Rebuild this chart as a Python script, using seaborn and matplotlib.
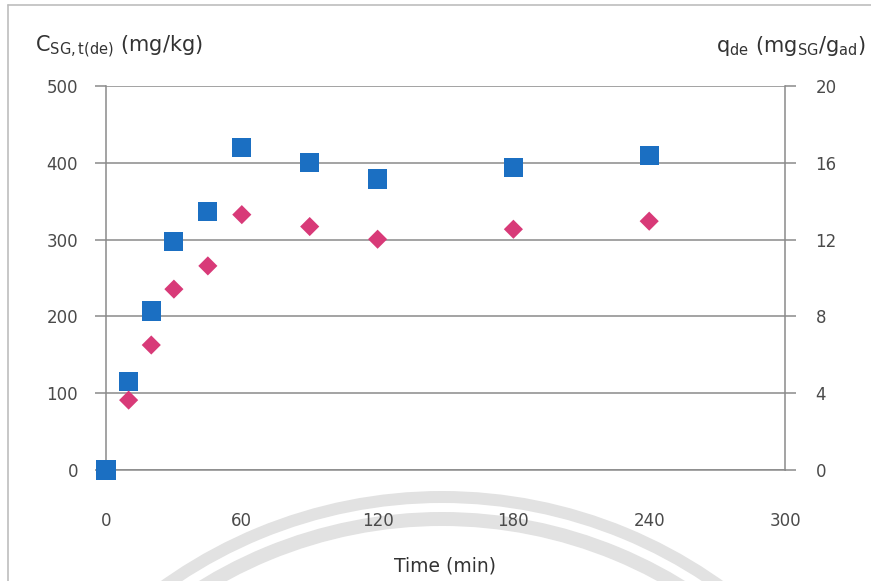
import numpy as np
import pandas as pd
import matplotlib
matplotlib.use("Agg")
import matplotlib.pyplot as plt
from matplotlib.patches import Arc
import seaborn as sns

# Desorption kinetics data
time_c = [0, 10, 20, 30, 45, 60, 90, 120, 180, 240]          # min
conc_sg = [0, 115, 207, 298, 337, 420, 400, 379, 394, 409]   # mg/kg

time_q = [10, 20, 30, 45, 60, 90, 120, 180, 240]             # min
q_de = [3.64, 6.51, 9.42, 10.63, 13.30, 12.68, 12.02, 12.54, 12.96]  # mg_SG/g_ad

x_ticks = [0, 60, 120, 180, 240, 300]
left_ticks = [0, 100, 200, 300, 400, 500]
right_ticks = [0, 4, 8, 12, 16, 20]

df_c = pd.DataFrame({"time": time_c, "conc": conc_sg})
df_q = pd.DataFrame({"time": time_q, "q": q_de})

sns.set_style("white")
plt.rcParams["font.family"] = ["DejaVu Sans"]

fig = plt.figure(figsize=(8.71, 5.81), dpi=100)
fig.patch.set_facecolor("white")

# faint seal arcs in the background
ax_bg = fig.add_axes([0, 0, 1, 1], zorder=-5)
ax_bg.set_xlim(0, 871)
ax_bg.set_ylim(581, 0)
ax_bg.axis("off")
for r, w in [(478, 12), (456, 14)]:
    ax_bg.add_patch(Arc((442, 975), 2 * r, 2 * r, theta1=0, theta2=360,
                        color="#e2e2e2", lw=w * 0.72))
# frame lines
ax_bg.plot([8, 8], [5, 581], color="#bdbdbd", lw=1.2)
ax_bg.plot([8, 871], [5, 5], color="#bdbdbd", lw=1.2)

ax = fig.add_axes([106 / 871, 1 - 470 / 581, (785 - 106) / 871, (470 - 86) / 581])
ax.set_facecolor("none")
ax2 = ax.twinx()

grey = "#8a8a8a"
sns.scatterplot(data=df_c, x="time", y="conc", ax=ax, marker="s", s=190,
                color="#1b6fc2", edgecolor="none", zorder=5, clip_on=False)
sns.scatterplot(data=df_q, x="time", y="q", ax=ax2, marker="D", s=95,
                color="#d83a78", edgecolor="none", zorder=5, clip_on=False)

ax.set_xlim(0, 300)
ax.set_ylim(0, 500)
ax2.set_ylim(0, 20)
ax.set_xticks(x_ticks)
ax.set_yticks(left_ticks)
ax2.set_yticks(right_ticks)

ax.yaxis.grid(True, color=grey, lw=1.1)
ax.xaxis.grid(False)
ax2.grid(False)
ax.set_axisbelow(True)

for a in (ax, ax2):
    for side, sp in a.spines.items():
        sp.set_color(grey)
        sp.set_linewidth(1.1)
    a.spines["top"].set_visible(False)
ax.spines["right"].set_visible(False)
ax2.spines["left"].set_visible(False)
ax2.spines["bottom"].set_visible(False)

tick_color = "#4a4a4a"
ax.tick_params(axis="x", direction="out", length=6, width=1.1, color=grey,
               pad=24, labelsize=12, labelcolor=tick_color)
ax.tick_params(axis="y", direction="out", length=8, width=1.1, color=grey,
               pad=12, labelsize=12, labelcolor=tick_color, left=True)
ax2.tick_params(axis="y", direction="out", length=8, width=1.1, color=grey,
                pad=14, labelsize=12, labelcolor=tick_color, right=True)

ax.set_xlabel("")
ax.set_ylabel("")
ax2.set_ylabel("")

fig.text(35 / 871, 1 - 52 / 581, r"$\mathregular{C_{SG,t(de)}}$ (mg/kg)",
         fontsize=15, color="#333333", ha="left", va="baseline")
fig.text(866 / 871, 1 - 52 / 581, r"$\mathregular{q_{de}\ (mg_{SG}/g_{ad})}$",
         fontsize=15, color="#333333", ha="right", va="baseline")
fig.text(445 / 871, 1 - 572 / 581, "Time (min)", fontsize=13.5,
         color="#333333", ha="center", va="baseline")

fig.savefig("out.png", dpi=100, facecolor="white")
